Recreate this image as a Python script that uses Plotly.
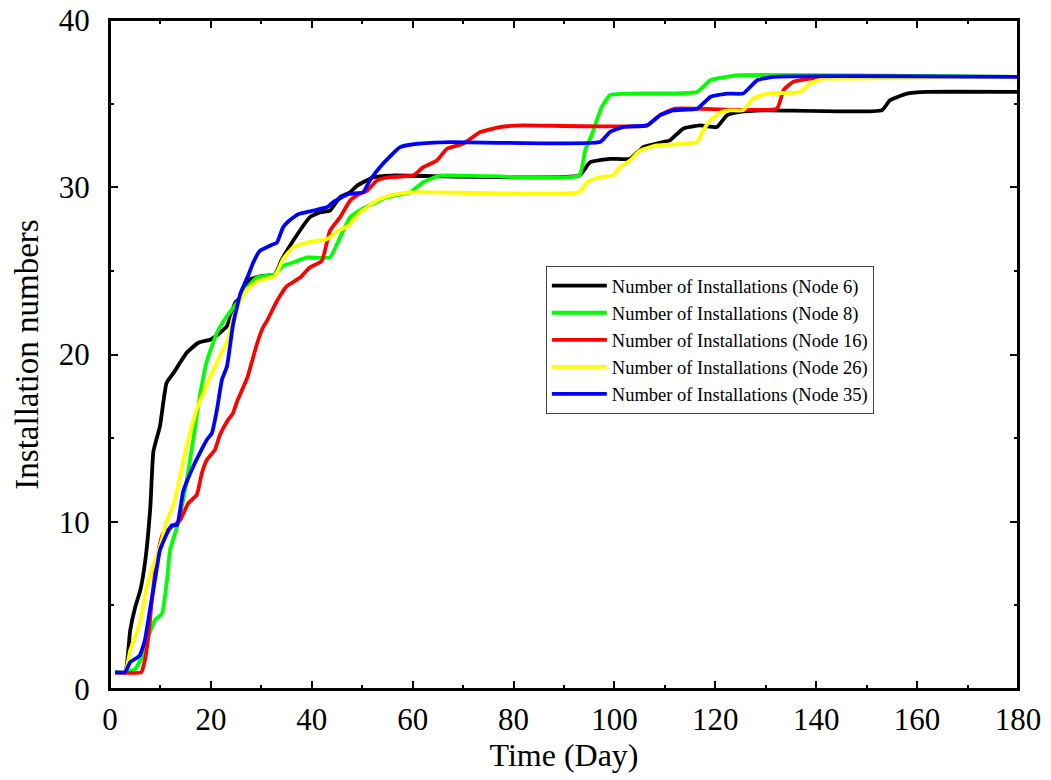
import plotly.graph_objects as go

# Node 6
x_n6 = [1, 3, 4, 5, 6, 7, 8, 8.6, 9.9, 11.2, 12.6, 15.2, 17.5, 20, 21.8, 23.2, 24.8, 25.8, 27.8, 30.3, 32.7, 34.1, 36.3, 39.6, 41.6, 43.6, 45.6, 47.6, 49, 52.2, 56, 93, 95.2, 99.1, 103.1, 105.7, 109.6, 111, 113.6, 117, 120.3, 122.3, 124.9, 130.2, 153, 154.6, 158, 162, 180]
y_n6 = [1, 1, 3.5, 4.9, 5.9, 7.7, 10.9, 14.2, 15.7, 18.3, 18.9, 20.1, 20.7, 20.9, 21.3, 21.7, 23.1, 23.4, 24.5, 24.7, 24.8, 25.7, 26.8, 28.2, 28.5, 28.6, 29.4, 29.7, 30.1, 30.6, 30.7, 30.7, 31.5, 31.7, 31.7, 32.4, 32.7, 32.8, 33.5, 33.7, 33.6, 34.3, 34.5, 34.6, 34.6, 35.2, 35.6, 35.7, 35.7]

# Node 8
x_n8 = [1, 3, 5, 6.5, 7.3, 8.9, 10.3, 11.3, 11.9, 13.3, 14.9, 16.5, 17.8, 19.2, 21.2, 23.2, 25.2, 27.2, 29.1, 32.7, 34.3, 36.3, 39.1, 43.6, 45, 47.6, 50, 52.1, 54.9, 59.5, 62.1, 65.4, 93, 94.2, 95.6, 96.5, 97.5, 99.1, 103.1, 116.4, 119, 122.3, 124.9, 180]
y_n8 = [1, 1, 1.2, 2, 2.9, 4.1, 4.5, 6.5, 8.3, 9.7, 11.9, 14.9, 17.5, 19.6, 21.3, 22.3, 23.1, 24.0, 24.6, 24.8, 25.3, 25.5, 25.8, 25.8, 26.6, 28.2, 28.7, 29.0, 29.4, 29.7, 30.3, 30.7, 30.7, 32.2, 33.2, 34.0, 34.8, 35.5, 35.6, 35.7, 36.4, 36.6, 36.7, 36.6]

# Node 16
x_n16 = [1, 6.2, 6.9, 7.6, 8.3, 9.3, 10.5, 12.3, 13.9, 15.5, 17.2, 18.2, 19.2, 20.8, 21.8, 23.2, 24.4, 25.2, 27.2, 29.1, 30.3, 31.1, 33.1, 35.1, 37.7, 39.6, 42, 43.6, 45.6, 47.6, 49.5, 51, 52.9, 55.5, 60.1, 62.1, 64.8, 66.8, 70, 73.4, 77.3, 81.9, 106.5, 109, 112, 132.2, 133.5, 135.4, 138.8, 142, 180]
y_n16 = [1, 1, 1.7, 3.1, 5.3, 7.7, 9.3, 9.7, 10.1, 11.1, 11.6, 12.9, 13.7, 14.3, 15.2, 16.0, 16.5, 17.2, 18.6, 20.6, 21.6, 22.0, 23.2, 24.1, 24.6, 25.2, 25.6, 27.4, 28.2, 29.2, 29.6, 29.8, 30.4, 30.6, 30.7, 31.2, 31.6, 32.3, 32.6, 33.3, 33.6, 33.7, 33.7, 34.3, 34.7, 34.7, 35.8, 36.3, 36.5, 36.6, 36.6]

# Node 26
x_n26 = [1, 3, 4, 5.9, 7.3, 8.5, 9.9, 11.3, 12.5, 13.9, 15.2, 17.2, 19.5, 21.8, 23.4, 24.4, 26, 27.2, 29.4, 32.7, 34.3, 36.3, 39.1, 43, 45.3, 47.3, 49.6, 51, 52.9, 55.5, 59.5, 93, 94.6, 97.1, 99.7, 101.1, 103.1, 105.1, 108.4, 116.4, 117.6, 119, 121.2, 123, 125.5, 127.5, 130.2, 136.8, 138.8, 141.4, 144, 180]
y_n26 = [1, 1, 2.3, 3.9, 6.1, 7.3, 8.5, 10.1, 10.9, 12.7, 14.5, 16.7, 18.4, 19.9, 20.9, 22.2, 23.3, 23.9, 24.4, 24.7, 25.7, 26.4, 26.7, 26.9, 27.4, 27.7, 28.5, 28.8, 29.2, 29.5, 29.7, 29.7, 30.3, 30.6, 30.7, 31.2, 31.6, 32.2, 32.5, 32.7, 33.4, 34.0, 34.5, 34.6, 34.6, 35.3, 35.6, 35.7, 36.2, 36.5, 36.5, 36.6]

# Node 35
x_n35 = [1, 3, 4, 5.9, 6.9, 7.9, 8.9, 9.9, 11.3, 12.3, 13.3, 14.5, 16.5, 17.8, 19.2, 20.2, 21.2, 22.2, 23.2, 24.4, 25.8, 27.5, 28.4, 29.7, 31.7, 33.1, 34.3, 35.5, 37.4, 40.2, 43, 44.2, 47.3, 50.2, 51.5, 54.1, 57.5, 60.9, 67.4, 97.1, 99.1, 101.7, 106.5, 109, 111.6, 116.4, 119, 122.3, 125.5, 128.3, 131.5, 180]
y_n35 = [1, 1, 1.6, 2.0, 2.9, 4.7, 6.5, 8.3, 9.3, 9.8, 9.8, 11.8, 13.3, 14.1, 14.9, 15.3, 16.7, 18.5, 19.3, 21.8, 23.6, 24.8, 25.5, 26.2, 26.5, 26.7, 27.6, 28.0, 28.4, 28.6, 28.8, 29.1, 29.6, 29.7, 30.4, 31.4, 32.4, 32.6, 32.7, 32.7, 33.3, 33.6, 33.7, 34.3, 34.6, 34.7, 35.4, 35.6, 35.6, 36.4, 36.6, 36.6]

series = [
    ("Number of Installations (Node 6)", x_n6, y_n6, "#000000"),
    ("Number of Installations (Node 8)", x_n8, y_n8, "#00FF00"),
    ("Number of Installations (Node 16)", x_n16, y_n16, "#FF0000"),
    ("Number of Installations (Node 26)", x_n26, y_n26, "#FFFF00"),
    ("Number of Installations (Node 35)", x_n35, y_n35, "#0000FF"),
]

x_ticks = [0, 20, 40, 60, 80, 100, 120, 140, 160, 180]
y_ticks = [0, 10, 20, 30, 40]

fig = go.Figure()
for name, xs, ys, col in series:
    fig.add_trace(go.Scatter(x=xs, y=ys, mode="lines", name=name, cliponaxis=True,
                             line=dict(color=col, width=3.8, shape="spline", smoothing=0.4)))

font_family = "Liberation Serif, Times New Roman, serif"
axis_common = dict(
    showline=True, linecolor="black", linewidth=2, mirror="ticks",
    ticks="inside", ticklen=8, tickwidth=2, tickcolor="black",
    showgrid=False, zeroline=False, automargin=False,
    ticklabeloverflow="allow",
    tickfont=dict(family=font_family, size=31, color="black"),
)
fig.update_xaxes(range=[0, 180], tickvals=x_ticks,
                 minor=dict(dtick=10, ticks="inside", ticklen=4, tickwidth=2, tickcolor="black"),
                 title=dict(text="Time (Day)", font=dict(family=font_family, size=32, color="black"), standoff=0),
                 ticklabelstandoff=2, **axis_common)
fig.update_yaxes(range=[0, 40], tickvals=y_ticks,
                 minor=dict(dtick=5, ticks="inside", ticklen=4, tickwidth=2, tickcolor="black"),
                 title=dict(text="Installation numbers", font=dict(family=font_family, size=33, color="black"), standoff=10),
                 ticklabelstandoff=12, **axis_common)

fig.add_shape(type="rect", xref="paper", yref="paper", x0=0, x1=1, y0=0, y1=1,
              line=dict(color="black", width=2), fillcolor="rgba(0,0,0,0)", layer="above")

fig.update_layout(
    width=1043, height=772,
    margin=dict(l=102, r=33, t=12, b=91),
    paper_bgcolor="white", plot_bgcolor="white",
    showlegend=True,
    legend=dict(x=0.48, y=0.632, xanchor="left", yanchor="top",
                bgcolor="white", bordercolor="#444444", borderwidth=1,
                font=dict(family=font_family, size=18.5, color="black"),
                itemwidth=55, tracegroupgap=0),
)

fig.write_html("out.html")
